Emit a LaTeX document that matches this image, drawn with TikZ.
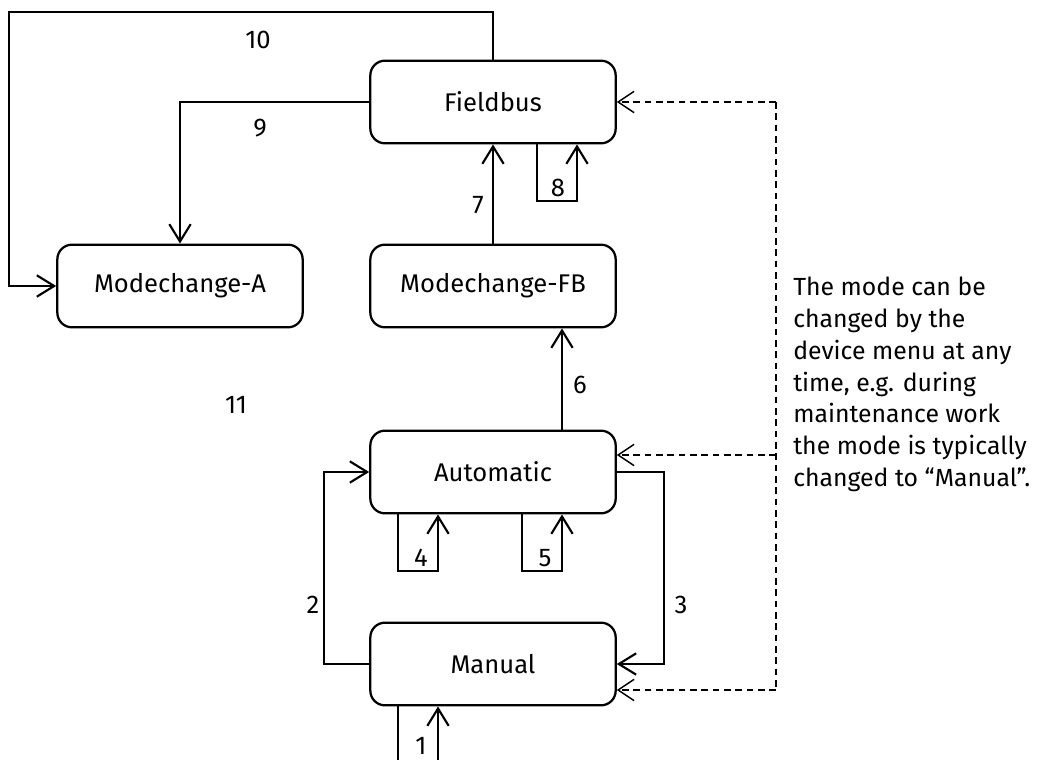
\documentclass[tikz,border=0pt]{standalone}
\usepackage{fontspec}
\setmainfont{Fira Sans}
\usetikzlibrary{arrows.meta,calc}
\begin{document}
\begin{tikzpicture}[x=0.75pt,y=-0.75pt,
  box/.style={draw,line width=1.7pt,rounded corners=11pt,minimum width=184pt,minimum height=62pt,inner sep=0pt,font=\fontsize{19.2}{23}\selectfont},
  wire/.style={line width=1.6pt},
  conn/.style={line width=1.6pt,-{Straight Barb[length=13pt,width=16pt]}},
  dsh/.style={line width=1.1pt,dash pattern=on 5pt off 3.5pt},
  dsharrow/.style={dsh,-{Straight Barb[length=12pt,width=16pt,line width=1.1pt]}},
  lbl/.style={font=\fontsize{19.2}{23}\selectfont,inner sep=0pt}]
\useasboundingbox (0,0) rectangle (1039,760);
\node[box] (fb) at (493,102) {Fieldbus};
\node[box] (ma) at (180,286) {Modechange-A};
\node[box] (mfb) at (493,286) {Modechange-FB};
\node[box] (au) at (493,472) {Automatic};
\node[box] (mn) at (493,664) {Manual};
% 10
\coordinate (c10) at (9,12);
\draw[conn] (fb.north) |- (c10) |- (ma.west);
% 9
\draw[conn] (fb.west) -| (ma.north);
% 7
\draw[conn] (mfb.north) -- (fb.south);
% 8
\coordinate (l8a) at (537,201);
\coordinate (l8b) at (577,201);
\draw[conn] (l8a |- fb.south) -- (l8a) -- (l8b) -- (l8b |- fb.south);
% 6
\coordinate (c6) at (562,380);
\draw[conn] (c6 |- au.north) -- (c6 |- mfb.south);
% 4
\coordinate (l4a) at (398,571);
\coordinate (l4b) at (438,571);
\draw[conn] (l4a |- au.south) -- (l4a) -- (l4b) -- (l4b |- au.south);
% 5
\coordinate (l5a) at (522,571);
\coordinate (l5b) at (562,571);
\draw[conn] (l5a |- au.south) -- (l5a) -- (l5b) -- (l5b |- au.south);
% 3
\coordinate (c3) at (664,560);
\draw[conn] (au.east) -- (au.east -| c3) |- (mn.east);
% 2
\coordinate (c2) at (324,560);
\draw[conn] (mn.west) -- (mn.west -| c2) |- (au.west);
% 1
\coordinate (b1) at (398,760);
\coordinate (b2) at (438,760);
\draw[wire] (b1 |- mn.south) -- (b1);
\draw[conn] (b2) -- (b2 |- mn.south);
% dashed
\coordinate (dt) at (776,102);
\coordinate (da) at (776,455);
\coordinate (db) at (776,690);
\draw[dsh] (dt) -- (db);
\draw[dsharrow] (dt) -- (fb.east);
\draw[dsharrow] (da) -- (da -| au.east);
\draw[dsharrow] (db) -- (db -| mn.east);
% labels
\node[lbl] (n10) at (258,40) {10};
\node[lbl] (n9) at (260,128) {9};
\node[lbl] (n7) at (478,205) {7};
\node[lbl] (n8) at (558,188) {8};
\node[lbl] (n11) at (236,405) {11};
\node[lbl] (n6) at (580,385) {6};
\node[lbl] (n4) at (421,558) {4};
\node[lbl] (n5) at (545,558) {5};
\node[lbl] (n2) at (313,605) {2};
\node[lbl] (n3) at (681,605) {3};
\node[lbl] (n1) at (421,746) {1};
\node[anchor=north west,align=left,inner sep=0pt,font=\fontsize{18.6}{23.8}\selectfont] (note) at (793,277)
 {The mode can be\\changed by the\\device menu at any\\time, e.g. during\\maintenance work\\the mode is typically\\changed to “Manual”.};
\end{tikzpicture}
\end{document}
